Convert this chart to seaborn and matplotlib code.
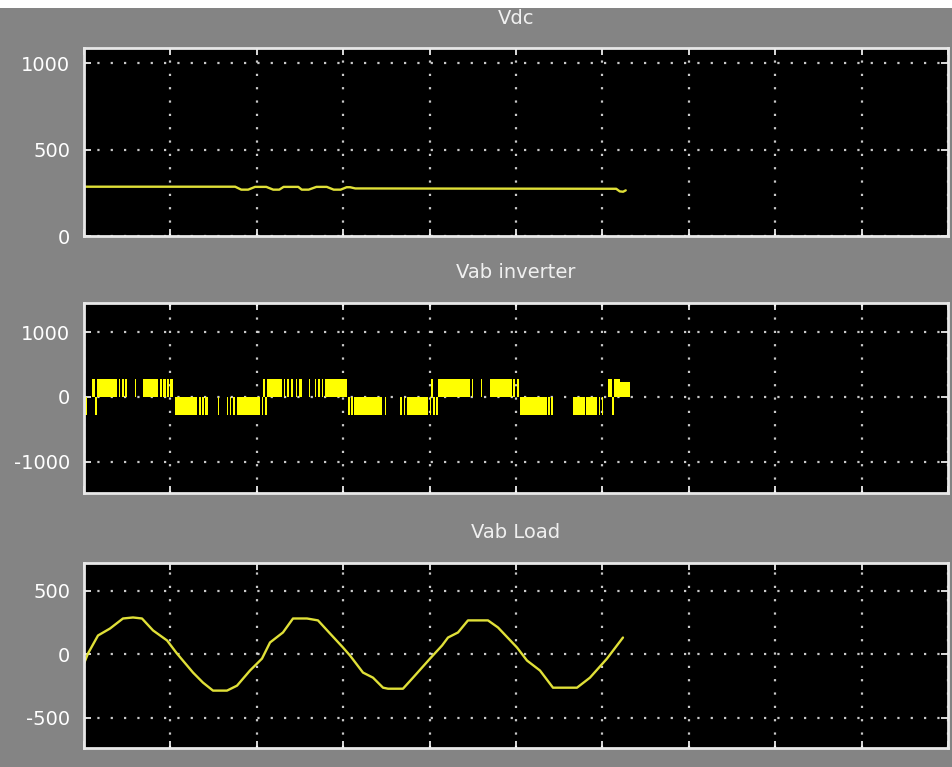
import numpy as np
import pandas as pd
import seaborn as sns
import matplotlib.pyplot as plt
from matplotlib.patches import Rectangle

# ---------------------------------------------------------------
# data (time in ms)
# ---------------------------------------------------------------
vdc_t = [0.0, 17.5, 18.2, 19.0, 19.8, 21.1, 21.9, 22.6, 23.1, 24.8, 25.2, 26.0,
         26.9, 28.1, 28.9, 29.7, 30.4, 30.8, 31.4, 45.0, 61.6, 62.0, 62.4, 62.7]
vdc_v = [285, 285, 268, 268, 284, 284, 268, 268, 284, 284, 268, 268,
         284, 284, 268, 268, 282, 282, 275, 274, 273, 258, 256, 264]

# inverter line voltage, piecewise constant (switch time, level after switch)
inv_t = [0.0, 0.35, 0.9, 1.27, 1.45, 3.8, 4.0, 4.2, 4.45, 4.6, 4.8, 5.0, 5.9, 6.0,
         6.8, 8.6, 8.75, 9.0, 9.2, 9.45, 9.6, 9.85, 10.0, 10.3, 10.5,
         13.1, 13.3, 13.5, 13.7, 13.9, 14.05, 14.3, 15.5, 15.6, 16.5, 16.65, 16.85,
         17.05, 17.3, 17.5, 17.7, 20.4, 20.55, 20.7, 21.0, 21.15,
         22.9, 23.1, 23.3, 23.55, 23.75, 24.0, 24.2, 24.5, 24.7, 24.9, 25.2, 26.0,
         26.1, 26.7, 26.9, 27.1, 27.3, 27.5, 27.7, 27.9, 30.4, 30.6, 30.8, 30.95,
         31.15, 31.3, 34.5, 34.8, 34.9, 36.6, 36.8, 37.0, 37.2, 37.4, 39.8, 40.0,
         40.2, 40.35, 40.6, 40.75, 41.0, 44.7, 44.85, 45.0, 46.0, 46.1, 47.0,
         49.5, 49.7, 49.9, 50.1, 50.3, 50.5, 53.6, 53.75, 53.95, 54.1, 54.3,
         55.5, 55.6, 56.6, 58.0, 58.15, 59.4, 59.55, 59.75, 59.9, 60.1, 60.6,
         61.1, 61.3, 62.0, 63.2]
inv_v = [-280, 0, 280, -280, 280, 0, 280, 0, 280, 0, 280, 0, 280, 0,
         280, 0, 280, 0, 280, 0, 280, 0, 280, 0, -280,
         0, -280, 0, -280, 0, -280, 0, -280, 0, -280, 0, -280,
         0, -280, 0, -280, 0, -280, 280, -280, 280,
         0, 280, 0, 280, 0, 280, 0, 280, 0, 280, 0, 280,
         0, 280, 0, 280, 0, 280, 0, 280, 0, -280, 0, -280,
         0, -280, 0, -280, 0, -280, 0, -280, 0, -280, 0, -280,
         280, -280, 0, -280, 280, 0, 280, 0, 280, 0, 280,
         0, 280, 0, 280, 0, -280, 0, -280, 0, -280, 0,
         -280, 0, -280, 0, -280, 0, -280, 0, -280, 0, 280,
         -280, 280, 230, 230]

load_t = [0.0, 0.46, 1.62, 3.01, 4.51, 5.67, 6.71, 7.99, 9.61, 10.76, 12.62, 13.77,
          14.93, 16.55, 17.71, 19.21, 20.60, 21.53, 23.03, 24.19, 25.81, 27.08,
          28.47, 29.98, 30.79, 32.29, 33.45, 34.61, 35.19, 36.92, 38.08, 40.05,
          41.44, 42.13, 43.29, 44.44, 46.76, 47.92, 50.12, 51.27, 52.78, 54.28,
          57.06, 58.56, 60.53, 62.38]
load_v = [-75, 4, 146, 201, 280, 288, 280, 186, 107, 4, -146, -225,
          -288, -288, -249, -130, -36, 91, 170, 280, 280, 265,
          162, 51, -12, -146, -186, -265, -273, -273, -186, -36,
          67, 130, 170, 265, 265, 209, 51, -51, -130, -265,
          -265, -186, -36, 130]

titles = ["Vdc", "Vab inverter", "Vab Load"]
yticks = [[0, 500, 1000], [-1000, 0, 1000], [-500, 0, 500]]
ylims = [(0, 1087), (-1488, 1457), (-740, 717)]

# ---------------------------------------------------------------
# figure
# ---------------------------------------------------------------
sns.set_style("dark")
plt.rcParams['font.family'] = ['DejaVu Sans']

bg = '#848484'
fig = plt.figure(figsize=(9.52, 7.67), dpi=100, facecolor=bg)
fig.patches.append(Rectangle((0, 1 - 8 / 767), 1, 8 / 767, transform=fig.transFigure,
                             facecolor='white', edgecolor='none', zorder=0))

boxes = [(84, 48, 236), (84, 303, 493), (84, 563, 748)]
axes = []
for left, top, bottom in boxes:
    ax = fig.add_axes([left / 952, 1 - bottom / 767, 864 / 952, (bottom - top) / 767])
    axes.append(ax)

vdc_df = pd.DataFrame({"t": vdc_t, "v": vdc_v})
load_df = pd.DataFrame({"t": load_t, "v": load_v})

sns.lineplot(data=vdc_df, x="t", y="v", ax=axes[0], color='#e0e038', lw=1.7,
             estimator=None, sort=False)
axes[1].fill_between(inv_t, 0, inv_v, step='post', color='#ffff00', linewidth=0)
sns.lineplot(data=load_df, x="t", y="v", ax=axes[2], color='#e0e038', lw=1.7,
             estimator=None, sort=False)

for i, ax in enumerate(axes):
    ax.set_facecolor('black')
    ax.set_xlim(0, 100)
    ax.set_ylim(*ylims[i])
    ax.set_xticks(np.arange(0, 101, 10))
    ax.set_xticklabels([])
    ax.set_yticks(yticks[i])
    ax.set_yticklabels([str(v) for v in yticks[i]], fontsize=14, color='white')
    ax.set_xlabel("")
    ax.set_ylabel("")
    ax.grid(True, color='#e0e0e0', linestyle=(0, (1, 5)), linewidth=1.6, alpha=0.9)
    ax.tick_params(axis='both', direction='in', length=5, width=1.2, color='white',
                   top=True, right=True, bottom=True, left=True, pad=10)
    for s in ax.spines.values():
        s.set_visible(True)
        s.set_color('#e8e8e8')
        s.set_linewidth(2)
    bottom_px = boxes[i][2] - boxes[i][1]
    ax.text(0.5, 1 + 30 / bottom_px, titles[i], transform=ax.transAxes,
            ha='center', va='center', fontsize=14, color='#f0f0f0')

fig.savefig("out.png", dpi=100, facecolor=bg)
